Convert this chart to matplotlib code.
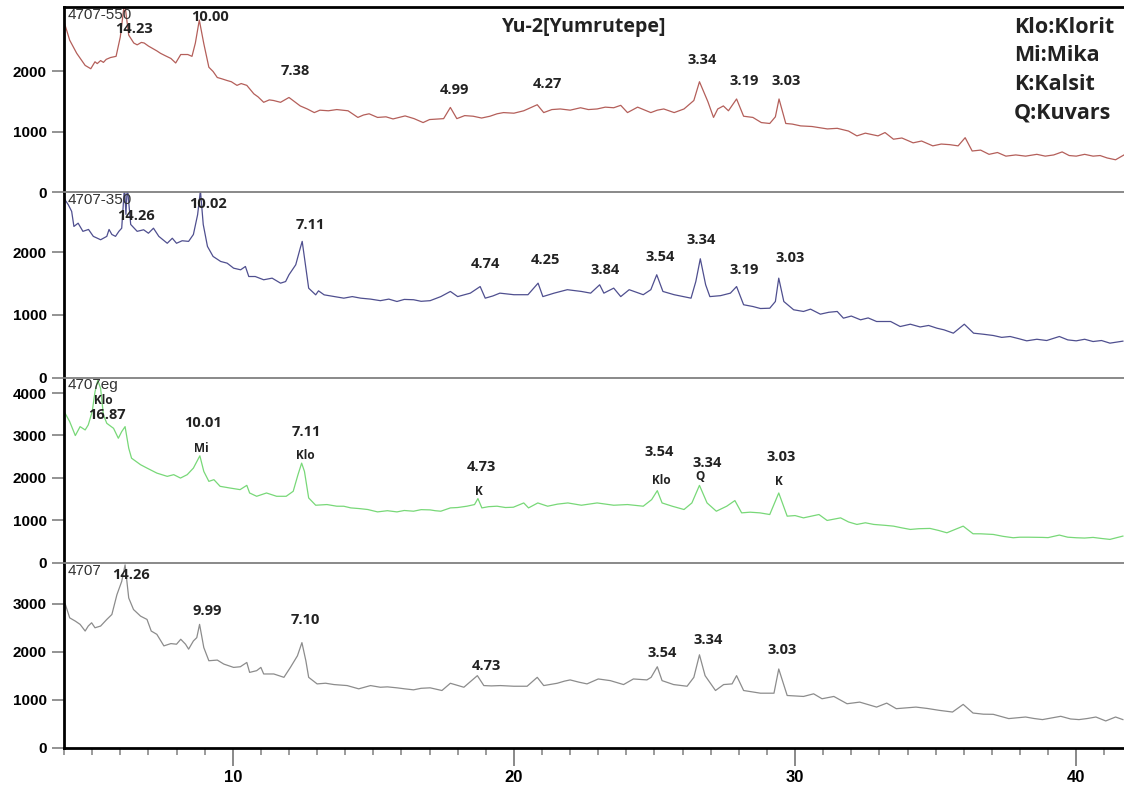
import matplotlib
matplotlib.use("Agg")
import matplotlib.pyplot as plt
from matplotlib.ticker import MultipleLocator
import numpy as np

plt.rcParams['font.family'] = ['Liberation Sans', 'DejaVu Sans']
plt.rcParams['font.weight'] = 'bold'

# XRD desenleri (2theta, siddet)
s_550 = [(4.0, 2820), (4.2, 2517), (4.45, 2300), (4.75, 2100), (4.95, 2045), (5.1, 2160),
         (5.18, 2130), (5.3, 2180), (5.4, 2150), (5.5, 2200), (5.65, 2230), (5.85, 2250),
         (6.0, 2570), (6.15, 3150), (6.3, 2600), (6.48, 2470), (6.6, 2440), (6.75, 2480),
         (6.85, 2470), (7.0, 2420), (7.15, 2380), (7.3, 2340), (7.43, 2300), (7.6, 2260),
         (7.8, 2215), (7.97, 2140), (8.15, 2280), (8.4, 2280), (8.55, 2250), (8.67, 2470),
         (8.81, 2850), (8.97, 2460), (9.15, 2070), (9.3, 2000), (9.45, 1900), (9.6, 1880),
         (9.8, 1850), (9.95, 1830), (10.15, 1770), (10.3, 1800), (10.5, 1770), (10.75, 1630),
         (10.9, 1580), (11.1, 1490), (11.3, 1530), (11.45, 1520), (11.7, 1490), (12.0, 1570),
         (12.2, 1500), (12.4, 1430), (12.65, 1380), (12.9, 1320), (13.1, 1360), (13.4, 1350),
         (13.7, 1370), (14.1, 1350), (14.45, 1240), (14.65, 1280), (14.85, 1300), (15.15, 1240),
         (15.45, 1250), (15.7, 1215), (16.13, 1265), (16.45, 1220), (16.77, 1155), (17.0, 1205),
         (17.5, 1220), (17.74, 1405), (17.97, 1220), (18.25, 1270), (18.55, 1260), (18.85, 1230),
         (19.15, 1260), (19.4, 1300), (19.63, 1320), (20.0, 1310), (20.35, 1350), (20.83, 1450),
         (21.06, 1320), (21.35, 1370), (21.65, 1380), (22.0, 1360), (22.37, 1400), (22.65, 1370),
         (22.96, 1380), (23.25, 1410), (23.55, 1400), (23.8, 1440), (24.04, 1320), (24.4, 1410),
         (24.87, 1320), (25.1, 1360), (25.33, 1380), (25.7, 1320), (26.05, 1380), (26.4, 1520),
         (26.6, 1830), (26.9, 1500), (27.1, 1240), (27.25, 1380), (27.45, 1430), (27.63, 1350),
         (27.92, 1545), (28.17, 1260), (28.5, 1240), (28.8, 1155), (29.1, 1140), (29.3, 1250),
         (29.43, 1545), (29.67, 1140), (29.9, 1130), (30.2, 1100), (30.6, 1090), (31.15, 1050),
         (31.5, 1060), (31.9, 1015), (32.2, 935), (32.5, 980), (32.95, 935), (33.2, 990),
         (33.5, 880), (33.8, 900), (34.2, 820), (34.5, 850), (34.9, 770), (35.2, 800),
         (35.5, 790), (35.8, 770), (36.05, 905), (36.3, 685), (36.6, 700), (36.9, 630),
         (37.2, 660), (37.5, 600), (37.85, 620), (38.2, 600), (38.6, 630), (38.9, 600),
         (39.2, 620), (39.5, 670), (39.75, 610), (40.0, 600), (40.3, 630), (40.6, 600),
         (40.85, 610), (41.1, 570), (41.4, 540), (41.7, 620)]

s_350 = [(4.03, 2834), (4.15, 2754), (4.27, 2648), (4.35, 2408), (4.5, 2460), (4.67, 2330),
         (4.87, 2360), (5.04, 2250), (5.3, 2196), (5.52, 2250), (5.6, 2360), (5.7, 2280),
         (5.83, 2250), (5.95, 2330), (6.05, 2380), (6.15, 3050), (6.2, 2600), (6.25, 3050),
         (6.37, 2440), (6.6, 2330), (6.83, 2355), (7.0, 2300), (7.18, 2380), (7.37, 2250),
         (7.67, 2140), (7.85, 2220), (8.0, 2140), (8.2, 2180), (8.43, 2170), (8.6, 2280),
         (8.75, 2595), (8.85, 2980), (8.95, 2440), (9.1, 2090), (9.3, 1930), (9.57, 1850),
         (9.8, 1823), (10.03, 1743), (10.28, 1717), (10.45, 1770), (10.57, 1610), (10.8, 1610),
         (11.1, 1558), (11.4, 1584), (11.7, 1504), (11.88, 1530), (12.0, 1638), (12.24, 1797),
         (12.4, 2062), (12.47, 2170), (12.6, 1743), (12.7, 1424), (12.95, 1318), (13.05, 1382),
         (13.25, 1318), (13.6, 1292), (13.95, 1265), (14.25, 1290), (14.55, 1265), (14.9, 1250),
         (15.25, 1225), (15.55, 1250), (15.84, 1212), (16.1, 1245), (16.43, 1240), (16.7, 1215),
         (17.02, 1225), (17.4, 1290), (17.74, 1372), (18.0, 1290), (18.45, 1345), (18.8, 1450),
         (18.98, 1265), (19.25, 1300), (19.5, 1345), (20.0, 1320), (20.5, 1320), (20.86, 1504),
         (21.03, 1290), (21.43, 1345), (21.9, 1400), (22.4, 1372), (22.73, 1345), (23.05, 1478),
         (23.2, 1345), (23.55, 1425), (23.8, 1290), (24.1, 1400), (24.6, 1320), (24.87, 1400),
         (25.08, 1638), (25.3, 1372), (25.7, 1320), (26.3, 1265), (26.47, 1530), (26.63, 1893),
         (26.82, 1478), (26.97, 1290), (27.35, 1305), (27.7, 1345), (27.92, 1450), (28.17, 1160),
         (28.5, 1132), (28.77, 1100), (29.1, 1105), (29.3, 1212), (29.42, 1584), (29.6, 1212),
         (29.95, 1080), (30.3, 1053), (30.55, 1090), (30.9, 1010), (31.2, 1040), (31.5, 1053),
         (31.72, 946), (32.0, 980), (32.33, 920), (32.6, 950), (32.9, 893), (33.4, 893),
         (33.74, 813), (34.1, 850), (34.45, 806), (34.75, 830), (35.05, 786), (35.3, 760),
         (35.63, 707), (36.02, 850), (36.35, 707), (36.7, 690), (37.05, 670), (37.35, 640),
         (37.65, 654), (37.95, 620), (38.24, 585), (38.6, 610), (38.95, 590), (39.4, 654),
         (39.7, 600), (40.0, 585), (40.3, 610), (40.6, 574), (40.9, 590), (41.2, 548), (41.66, 580)]

s_eg = [(4.04, 3520), (4.2, 3326), (4.4, 2997), (4.57, 3208), (4.75, 3130), (4.86, 3248),
        (5.0, 3560), (5.1, 4030), (5.2, 4304), (5.3, 4107), (5.4, 3483), (5.52, 3286),
        (5.76, 3168), (5.93, 2934), (6.05, 3091), (6.17, 3208), (6.3, 2699), (6.4, 2464),
        (6.72, 2310), (6.95, 2230), (7.3, 2112), (7.67, 2035), (7.9, 2075), (8.14, 1995),
        (8.38, 2075), (8.6, 2230), (8.83, 2520), (8.97, 2152), (9.15, 1917), (9.33, 1957),
        (9.55, 1800), (9.9, 1760), (10.26, 1722), (10.5, 1823), (10.6, 1643), (10.85, 1565),
        (11.2, 1643), (11.56, 1565), (11.9, 1565), (12.15, 1683), (12.32, 2075), (12.45, 2347),
        (12.55, 2152), (12.7, 1526), (12.95, 1354), (13.35, 1370), (13.7, 1331), (13.95, 1330),
        (14.2, 1291), (14.5, 1275), (14.8, 1253), (15.15, 1197), (15.5, 1225), (15.84, 1197),
        (16.1, 1230), (16.43, 1213), (16.7, 1250), (17.02, 1244), (17.2, 1225), (17.4, 1213),
        (17.74, 1291), (18.0, 1300), (18.33, 1331), (18.6, 1370), (18.72, 1511), (18.86, 1291),
        (19.1, 1320), (19.4, 1331), (19.7, 1300), (19.98, 1307), (20.35, 1408), (20.52, 1291),
        (20.85, 1408), (21.2, 1331), (21.55, 1380), (21.92, 1408), (22.4, 1354), (22.96, 1408),
        (23.55, 1354), (24.04, 1370), (24.6, 1331), (24.9, 1487), (25.1, 1698), (25.27, 1408),
        (25.63, 1331), (26.05, 1253), (26.33, 1408), (26.6, 1823), (26.87, 1408), (27.2, 1213),
        (27.57, 1331), (27.86, 1464), (28.1, 1174), (28.4, 1190), (28.75, 1174), (29.1, 1135),
        (29.42, 1643), (29.72, 1096), (30.0, 1110), (30.3, 1056), (30.85, 1135), (31.14, 995),
        (31.62, 1056), (31.9, 960), (32.2, 901), (32.5, 940), (32.8, 901), (33.2, 880),
        (33.5, 861), (33.8, 820), (34.1, 783), (34.4, 800), (34.8, 807), (35.1, 760),
        (35.4, 704), (35.98, 861), (36.33, 681), (36.6, 680), (37.05, 665), (37.4, 620),
        (37.76, 587), (38.0, 600), (38.3, 600), (38.8, 595), (39.0, 590), (39.4, 650),
        (39.7, 600), (40.0, 587), (40.3, 580), (40.6, 595), (40.9, 570), (41.2, 548), (41.66, 626)]

s_4707 = [(4.04, 3000), (4.2, 2710), (4.4, 2642), (4.57, 2574), (4.75, 2435), (4.86, 2539),
          (4.98, 2607), (5.1, 2503), (5.3, 2539), (5.52, 2677), (5.7, 2780), (5.88, 3194),
          (6.05, 3470), (6.17, 3815), (6.3, 3124), (6.47, 2884), (6.72, 2746), (6.95, 2677),
          (7.1, 2435), (7.3, 2366), (7.55, 2125), (7.8, 2173), (8.0, 2160), (8.15, 2263),
          (8.32, 2160), (8.43, 2057), (8.6, 2228), (8.72, 2297), (8.82, 2574), (8.97, 2090),
          (9.15, 1815), (9.45, 1829), (9.68, 1746), (10.03, 1676), (10.27, 1690), (10.5, 1779),
          (10.6, 1572), (10.85, 1608), (11.0, 1676), (11.1, 1539), (11.46, 1539), (11.82, 1469),
          (12.05, 1676), (12.3, 1918), (12.46, 2193), (12.6, 1815), (12.7, 1469), (13.0, 1332),
          (13.3, 1346), (13.6, 1318), (14.07, 1297), (14.48, 1229), (14.9, 1297), (15.25, 1262),
          (15.5, 1270), (15.84, 1250), (16.1, 1230), (16.43, 1208), (16.7, 1240), (17.02, 1250),
          (17.44, 1194), (17.74, 1345), (18.22, 1262), (18.7, 1504), (18.93, 1297), (19.2, 1290),
          (19.52, 1297), (20.0, 1283), (20.47, 1283), (20.83, 1469), (21.06, 1297), (21.54, 1345),
          (21.8, 1390), (22.0, 1415), (22.3, 1370), (22.6, 1332), (23.0, 1435), (23.43, 1400),
          (23.9, 1318), (24.25, 1435), (24.73, 1415), (24.88, 1469), (25.1, 1690), (25.27, 1400),
          (25.68, 1318), (26.16, 1283), (26.4, 1469), (26.6, 1939), (26.8, 1504), (27.17, 1194),
          (27.46, 1318), (27.76, 1332), (27.92, 1504), (28.17, 1194), (28.77, 1138), (29.25, 1138),
          (29.42, 1643), (29.72, 1090), (30.3, 1070), (30.66, 1125), (30.96, 1022), (31.38, 1070),
          (31.85, 918), (32.3, 952), (32.9, 848), (33.26, 931), (33.6, 815), (34.3, 848),
          (34.7, 820), (35.13, 780), (35.6, 745), (35.98, 904), (36.33, 724), (36.7, 700),
          (37.05, 697), (37.6, 608), (38.2, 641), (38.5, 610), (38.8, 587), (39.45, 656),
          (39.8, 600), (40.1, 587), (40.4, 610), (40.7, 641), (41.05, 559), (41.4, 641), (41.66, 587)]

desenler = [("4707-550", s_550, "#b45f5a", 3060, [0, 1000, 2000]),
            ("4707-350", s_350, "#4f4f8f", 2950, [0, 1000, 2000]),
            ("4707eg", s_eg, "#78d878", 4366, [0, 1000, 2000, 3000, 4000]),
            ("4707", s_4707, "#8c8c8c", 3862, [0, 1000, 2000, 3000])]

# pik etiketleri (2theta, y, metin)
pik_550 = [(6.5, 2695, "14.23"), (9.18, 2895, "10.00"), (12.24, 2005, "7.38"),
           (17.9, 1695, "4.99"), (21.2, 1795, "4.27"), (26.68, 2184, "3.34"),
           (28.2, 1840, "3.19"), (29.67, 1840, "3.03")]
pik_350 = [(6.57, 2568, "14.26"), (9.13, 2764, "10.02"), (12.77, 2424, "7.11"),
           (19.0, 1807, "4.74"), (21.13, 1877, "4.25"), (23.23, 1718, "3.84"),
           (25.19, 1925, "3.54"), (26.65, 2196, "3.34"), (28.2, 1718, "3.19"),
           (29.84, 1903, "3.03")]
pik_eg = [(5.52, 3483, "16.87"), (8.95, 3286, "10.01"), (12.6, 3091, "7.11"),
          (18.86, 2246, "4.73"), (25.18, 2598, "3.54"), (26.87, 2347, "3.34"),
          (29.49, 2481, "3.03")]
mineral_eg = [(5.39, 3835, "Klo"), (8.89, 2699, "Mi"), (12.59, 2520, "Klo"),
              (18.74, 1683, "K"), (25.24, 1934, "Klo"), (26.63, 2035, "Q"),
              (29.44, 1917, "K")]
pik_4707 = [(6.37, 3594, "14.26"), (9.09, 2849, "9.99"), (12.57, 2663, "7.10"),
            (19.04, 1711, "4.73"), (25.28, 1986, "3.54"), (26.91, 2249, "3.34"),
            (29.53, 2042, "3.03")]
piks = [pik_550, pik_350, pik_eg, pik_4707]

lejant = ["Klo:Klorit", "Mi:Mika", "K:Kalsit", "Q:Kuvars"]

yazi = dict(fontweight='bold', family=['Open Sans', 'DejaVu Sans'], color='#222222')

fig, axes = plt.subplots(4, 1, figsize=(11.24, 7.89), dpi=100, sharex=True)
fig.subplots_adjust(left=0.057, right=1.0, top=0.9907, bottom=0.0523, hspace=0)

for i, (ax, (ad, veri, renk, ymax, yt)) in enumerate(zip(axes, desenler)):
    x, y = np.array(veri).T
    ax.plot(x, y, color=renk, lw=0.9)
    ax.set_ylim(0, ymax)
    ax.set_yticks(yt)
    ax.tick_params(axis='y', direction='out', length=8.5, width=1.2, color='#808080',
                   labelsize=11, pad=4)
    ax.spines['right'].set_visible(False)
    ax.spines['left'].set_linewidth(2)
    ax.spines['left'].set_color('black')
    if i == 0:
        ax.spines['top'].set_linewidth(2)
        ax.spines['top'].set_color('black')
    else:
        ax.spines['top'].set_linewidth(1.3)
        ax.spines['top'].set_color('#808080')
    if i < 3:
        ax.spines['bottom'].set_visible(False)
        ax.tick_params(axis='x', which='both', bottom=False, labelbottom=False)
    ax.text(0.003, 0.995, ad, transform=ax.transAxes, ha='left', va='top',
            fontsize=11, fontweight='normal', color='#333333')
    for px, py, t in piks[i]:
        ax.text(px, py, t, ha='center', va='center', fontsize=10.5, **yazi)

for px, py, t in mineral_eg:
    axes[2].text(px, py, t, ha='center', va='center', fontsize=8.5, **yazi)

# baslik ve lejant
axes[0].text(22.5, 2734, "Yu-2[Yumrutepe]", ha='center', va='center', fontsize=14, **yazi)
for k, t in enumerate(lejant):
    axes[0].text(37.78, 2734 - k * 472, t, ha='left', va='center', fontsize=15.5, **yazi)

alt = axes[3]
alt.set_xlim(4, 41.7)
alt.set_xticks([10, 20, 30, 40])
alt.xaxis.set_minor_locator(MultipleLocator(1))
alt.spines['bottom'].set_linewidth(2)
alt.spines['bottom'].set_color('black')
alt.tick_params(axis='x', which='major', direction='out', length=13, width=1.3,
                color='#808080', labelsize=12, pad=3)
alt.tick_params(axis='x', which='minor', direction='out', length=5, width=1.1,
                color='#808080')

plt.savefig("out.png", dpi=100)
